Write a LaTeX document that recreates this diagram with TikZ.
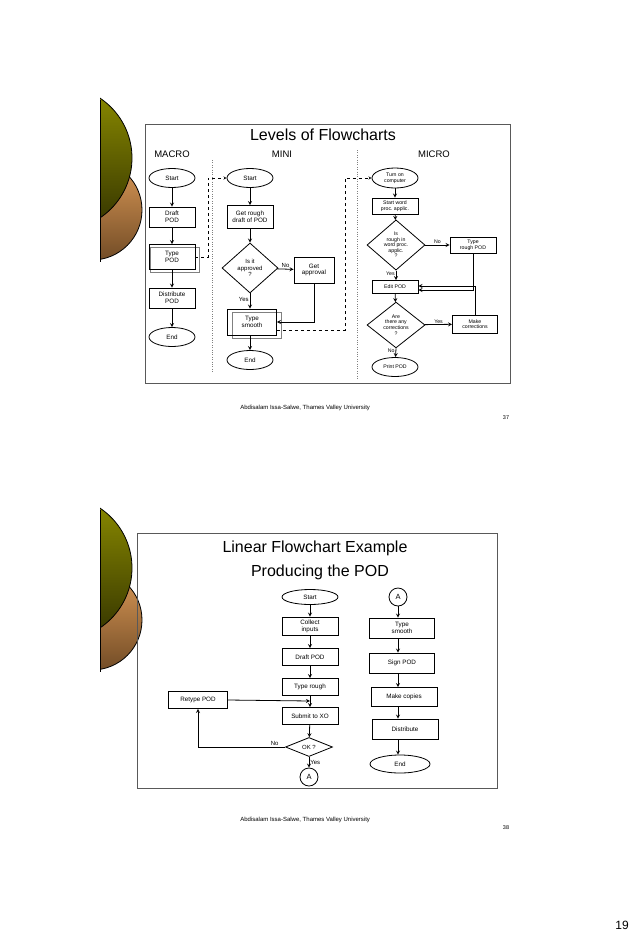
\documentclass[tikz,border=0pt]{standalone}
\usepackage{fontspec}
\setmainfont{Liberation Sans}
\usetikzlibrary{shapes.geometric,positioning}
\tikzset{
  term/.style={draw,ellipse,inner sep=0pt,minimum width=46pt,minimum height=19pt,font=\fontsize{6.3}{6.8}\selectfont,align=center},
  proc/.style={draw,rectangle,inner sep=1pt,minimum width=46pt,minimum height=20pt,font=\fontsize{6.3}{6.8}\selectfont,align=center},
  dec/.style={draw,diamond,inner sep=0pt,minimum width=56pt,minimum height=50pt,font=\fontsize{6}{6.5}\selectfont,align=center},
  tiny/.style={font=\fontsize{5.2}{5.6}\selectfont},
  conn/.style={draw,circle,inner sep=0pt,minimum size=18pt,font=\fontsize{7.5}{8}\selectfont},
  lbl/.style={font=\fontsize{6}{6.5}\selectfont,inner sep=1pt},
  head/.style={font=\fontsize{9.5}{10}\selectfont},
  foot/.style={font=\fontsize{6}{6.5}\selectfont,anchor=west,inner sep=0pt},
  frame/.style={draw,gray!70!black,line width=1pt},
  shadowbox/.style={draw,gray,line width=0.8pt}
}
\newcommand{\deco}[1]{%
  \begin{scope}[yshift=-#1]
    \clip (100,90) rectangle (160,280);
    \shade[top color=brown!70!orange!80, bottom color=brown!60!black] (92,210) circle (50);
    \draw (92,210) circle (50);
    \shade[top color=olive!90!yellow, bottom color=olive!40!black] (60,158) circle (72);
    \draw (60,158) circle (72);
    \draw[thick] (100,100) -- (100,262);
  \end{scope}}
\begin{document}
\begin{tikzpicture}[>=stealth,x=1pt,y=-1pt,line width=0.8pt]
\useasboundingbox[fill=white] (0,0) rectangle (638,945);
% top slide
\deco{0}
\draw[frame] (145,124) rectangle (510,383);
\node[font=\fontsize{16}{18}\selectfont] (t1) at (323,135) {Levels of Flowcharts};
\node[head] (hmacro) at (172,154) {MACRO};
\node[head] (hmini) at (282,154) {MINI};
\node[head] (hmicro) at (434,154) {MICRO};
\draw[dotted,gray,thin] (212,160) -- (212,372);
\draw[dotted,gray,thin] (357,150) -- (357,380);
% macro
\node[term] (ms) at (172,178) {Start};
\node[proc] (md) at (172,217) {Draft\\POD};
\draw[shadowbox] (150,247) rectangle (199,272);
\node[proc,minimum height=25pt] (mt) at (172,257) {Type\\POD};
\node[proc] (mdi) at (172,298) {Distribute\\POD};
\node[term] (me) at (172,337) {End};
\draw[->] (ms) -- (md);
\draw[->] (md) -- (mt);
\draw[->] (mt) -- (mdi);
\draw[->] (mdi) -- (me);
% mini
\node[term] (ns) at (250,178) {Start};
\node[proc,minimum height=23pt] (nr) at (250,217) {Get rough\\draft of POD};
\node[dec] (na) at (250,268) {Is it\\approved\\?};
\node[proc,minimum width=40pt,minimum height=26pt] (ng) at (314,270) {Get\\approval};
\draw[shadowbox] (232,312) rectangle (281,338);
\node[proc,minimum width=49pt,minimum height=26pt] (nt) at (252,322) {Type\\smooth};
\node[term] (ne) at (250,360) {End};
\draw[->] (ns) -- (nr);
\draw[->] (nr) -- (na);
\draw[->] (na) -- node[lbl,above] {No} (ng);
\draw[->] (na.south) -- node[lbl,left,pos=0.4] {Yes} (na.south |- nt.north);
\draw[->] (ng.south) |- (nt.east);
\draw[->] (nt.south -| ne.north) -- (ne);
\draw[dashed,thin,->] (mt.east) -- ++(13,0) |- (ns.west);
% micro
\node[term,tiny,minimum height=20pt] (cs) at (395,178) {Turn on\\computer};
\node[proc,tiny,minimum height=16pt] (cw) at (395,206) {Start word\\proc.\ applic.};
\node[dec,tiny,minimum width=58pt,minimum height=46pt] (cr) at (396,245) {Is\\rough in\\word proc.\\applic.\\?};
\node[proc,tiny,minimum height=16pt] (ct) at (473,245) {Type\\rough POD};
\node[proc,tiny,minimum height=13pt] (ce) at (395,287) {Edit POD};
\node[dec,tiny,minimum width=58pt,minimum height=41pt] (cc) at (396,325) {Are\\there any\\corrections\\?};
\node[proc,tiny,minimum width=45pt,minimum height=18pt] (cm) at (475,324) {Make\\corrections};
\node[term,tiny] (cp) at (395,367) {Print POD};
\draw[->] (cs) -- (cw);
\draw[->] (cw) -- (cr);
\draw[->] (cr) -- node[lbl,tiny,above] {No} (ct);
\draw[->] (cr.south) -- node[lbl,tiny,left,pos=0.3] {Yes} (cr.south |- ce.north);
\draw[->] (ct.south) |- ([yshift=-3pt]ce.east);
\draw[->] (cm.north) |- ([yshift=1pt]ce.east);
\draw[->] (ce) -- (cc);
\draw[->] (cc) -- node[lbl,tiny,above] {Yes} (cm);
\draw[->] (cc.south) -- node[lbl,tiny,left,pos=0.3] {No} (cp);
\draw[dashed,thin,->] (nt.east |- 0,330) -- (345,330) |- (cs.west);
\node[foot] (f1) at (240,408) {Abdisalam Issa-Salwe, Thames Valley University};
\node[font=\fontsize{5.5}{6}\selectfont] (p1) at (506,418) {37};
% bottom slide
\deco{410}
\draw[frame] (137,533) rectangle (497,788);
\node[font=\fontsize{16}{18}\selectfont] (t2) at (315,548) {Linear Flowchart Example};
\node[font=\fontsize{16}{18}\selectfont] (t3) at (320,572) {Producing the POD};
\node[term,minimum width=56pt,minimum height=15pt] (ls) at (310,597) {Start};
\node[proc,minimum width=56pt,minimum height=18pt] (lc) at (310,626) {Collect\\inputs};
\node[proc,minimum width=56pt,minimum height=17pt] (ld) at (310,657) {Draft POD};
\node[proc,minimum width=56pt,minimum height=17pt] (lt) at (310,687) {Type rough};
\node[proc,minimum width=56pt,minimum height=17pt] (lx) at (310,716) {Submit to XO};
\node[dec,minimum width=47pt,minimum height=19pt] (lo) at (309,747) {OK ?};
\node[conn] (la) at (309,777) {A};
\node[proc,minimum width=59pt,minimum height=17pt] (lr) at (198,700) {Retype POD};
\coordinate (lj) at (310,701);
\draw[->] (ls) -- (lc);
\draw[->] (lc) -- (ld);
\draw[->] (ld) -- (lt);
\draw[->] (lt) -- (lx);
\draw[->] (lx) -- (lo);
\draw[->] (lo) -- node[lbl,right] {Yes} (la);
\draw[->] (lo.west) -- node[lbl,above,pos=0.12] {No} (lr.south |- lo.west) -- (lr.south);
\draw[->] (lr.east) -- (lj);
\node[conn] (ra) at (398,597) {A};
\node[proc,minimum width=65pt,minimum height=20pt] (rt) at (402,628) {Type\\smooth};
\node[proc,minimum width=65pt,minimum height=20pt] (rs) at (402,663) {Sign POD};
\node[proc,minimum width=66pt,minimum height=19pt] (rm) at (404,697) {Make copies};
\node[proc,minimum width=66pt,minimum height=20pt] (rd) at (405,729) {Distribute};
\node[term,minimum width=60pt,minimum height=18pt] (re) at (400,764) {End};
\draw[->] (ra) -- (ra |- rt.north);
\draw[->] (ra |- rt.south) -- (ra |- rs.north);
\draw[->] (ra |- rs.south) -- (ra |- rm.north);
\draw[->] (ra |- rm.south) -- (ra |- rd.north);
\draw[->] (ra |- rd.south) -- (ra |- re.north);
\node[foot] (f2) at (240,820) {Abdisalam Issa-Salwe, Thames Valley University};
\node[font=\fontsize{5.5}{6}\selectfont] (p2) at (506,828) {38};
\node[font=\fontsize{12}{14}\selectfont] (pg) at (622,925) {19};
\end{tikzpicture}
\end{document}
